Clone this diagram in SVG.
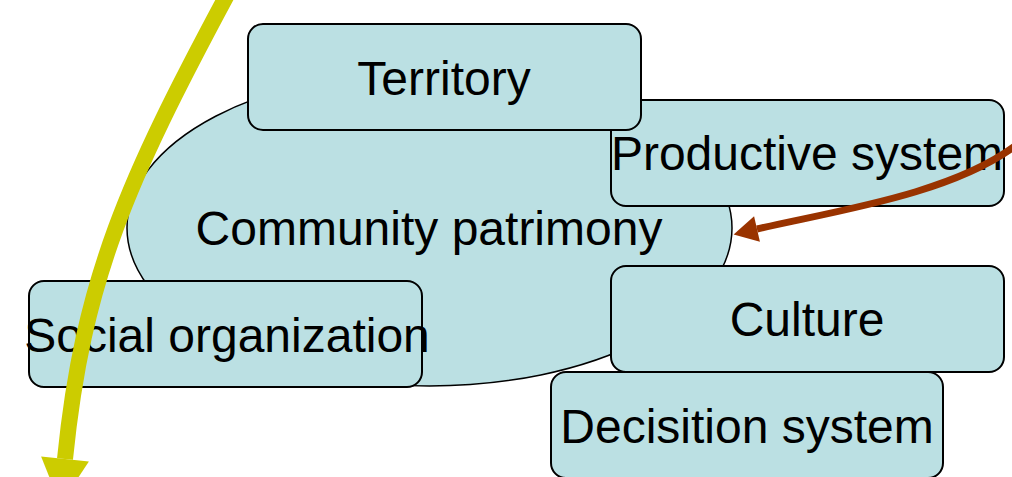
<svg xmlns="http://www.w3.org/2000/svg" width="1012" height="477" viewBox="0 0 1012 477">
<style>
.shape{fill:#BBE0E3;stroke:#000;stroke-width:2}
.ell{fill:#BBE0E3;stroke:#000;stroke-width:1.5}
.lbl{font-family:"Liberation Sans",Arial,sans-serif;font-size:48px;fill:#000;text-anchor:middle}
.yel{fill:none;stroke:#CCCC00;stroke-width:16}
.brn{fill:none;stroke:#993300;stroke-width:7}
</style>
<defs>
<marker id="headY" markerUnits="userSpaceOnUse" markerWidth="48" markerHeight="50" refX="0" refY="24" orient="auto" overflow="visible">
<path d="M0,0 L46,24 L0,48 z" fill="#CCCC00"/>
</marker>
<marker id="headB" markerUnits="userSpaceOnUse" markerWidth="26" markerHeight="28" refX="0" refY="13" orient="auto" overflow="visible">
<path d="M0,0 L24,13 L0,26 z" fill="#993300"/>
</marker>
</defs>
<rect width="1012" height="477" fill="#fff"/>
<g id="community-patrimony">
<ellipse class="ell" cx="429.5" cy="228" rx="302.5" ry="158"/>
<text class="lbl" x="429" y="245">Community patrimony</text>
</g>
<g id="productive-system">
<rect class="shape" x="611" y="100" width="393" height="106" rx="15"/>
<text class="lbl" x="807" y="170">Productive system</text>
</g>
<g id="territory">
<rect class="shape" x="248" y="24" width="393" height="106" rx="15"/>
<text class="lbl" x="444" y="95">Territory</text>
</g>
<g id="social-organization">
<rect class="shape" x="29" y="281" width="393" height="106" rx="15"/>
<text class="lbl" x="227" y="352">Social organization</text>
</g>
<g id="culture">
<rect class="shape" x="611" y="266" width="393" height="106" rx="15"/>
<text class="lbl" x="807" y="336">Culture</text>
</g>
<g id="decision-system">
<rect class="shape" x="551" y="372" width="392" height="106" rx="15"/>
<text class="lbl" x="747" y="443">Decisition system</text>
</g>
<g id="connectors">
<path class="brn" d="M1015,146 C951,194 835,211 757,229" marker-end="url(#headB)"/>
<path class="yel" d="M227,-5 C127.8,180 83,279 65,459" marker-end="url(#headY)"/>
</g>
</svg>
